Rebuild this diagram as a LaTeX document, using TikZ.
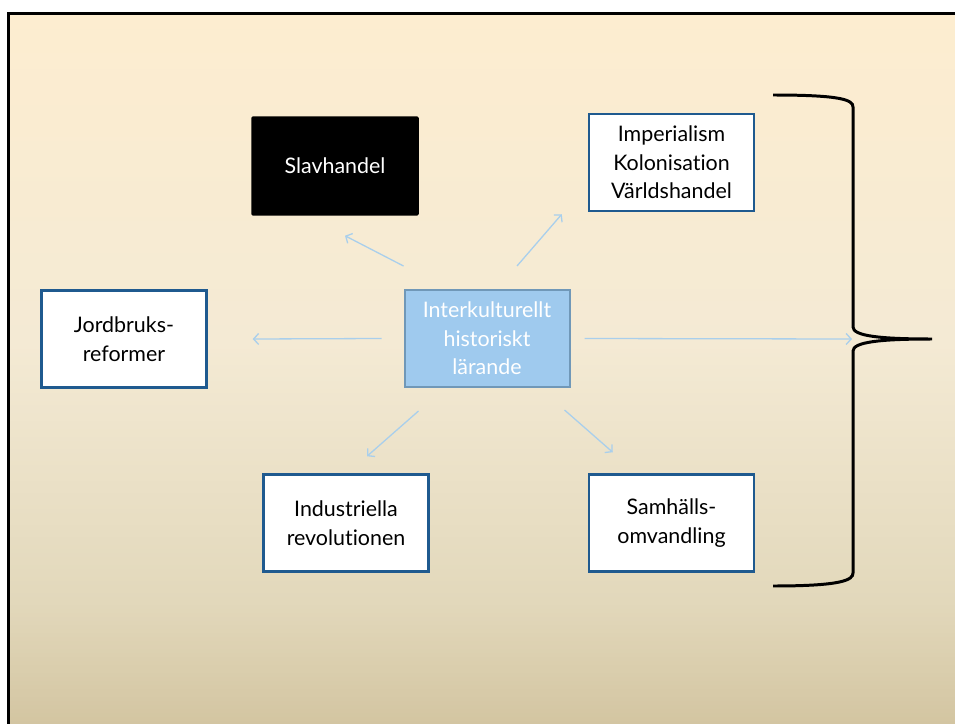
\documentclass[tikz,border=0pt]{standalone}
\usepackage{fontspec}
\setmainfont{Lato}[Ligatures=NoCommon]
\usetikzlibrary{arrows.meta}
\definecolor{bgtop}{HTML}{FDEDD0}
\definecolor{bgmid}{HTML}{F4EAD4}
\definecolor{bglow}{HTML}{E2D8BB}
\definecolor{bgbot}{HTML}{D3C5A1}
\definecolor{boxblue}{HTML}{1F5A8F}
\definecolor{hubfill}{HTML}{9FCAEE}
\definecolor{hubline}{HTML}{7098B8}
\definecolor{linkblue}{HTML}{A9CFEC}
\begin{document}
\begin{tikzpicture}[x=1bp,y=-1bp,
    topic/.style={draw=boxblue, line width=2.5pt, fill=white, minimum width=165bp, minimum height=97bp, align=center, font=\fontsize{21.5}{28.5}\selectfont},
    hub/.style={topic, draw=hubline, line width=2pt, fill=hubfill, text=white},
    dark/.style={topic, draw=black, fill=black, text=white, rounded corners=1pt},
    link/.style={draw=linkblue, line width=1.3pt, -{Straight Barb[length=5pt,width=11pt]}}]
    \useasboundingbox (0,0) rectangle (955,724);
    % slide background, in strips
    \foreach \y in {13,17,...,337} {\pgfmathsetmacro\p{(\y-13)/327*100}
      \fill[bgmid!\p!bgtop] (8.5,\y) rectangle (975,\y+4.5);}
    \foreach \y in {341,345,...,597} {\pgfmathsetmacro\p{(\y-341)/259*100}
      \fill[bglow!\p!bgmid] (8.5,\y) rectangle (975,\y+4.5);}
    \foreach \y in {601,605,...,721} {\pgfmathsetmacro\p{(\y-601)/123*100}
      \fill[bgbot!\p!bglow] (8.5,\y) rectangle (975,\y+4.5);}
    \draw[line width=3.5pt] (8.5,724) |- (975,13.5);
    % boxes
    \node[hub] (hub) at (487,338.5) {Interkulturellt\\historiskt\\lärande};
    \node[dark] (slav) at (335,166) {Slavhandel};
    \node[topic] (imp) at (671.5,162.5) {Imperialism\\Kolonisation\\Världshandel};
    \node[topic] (jord) at (124,339) {Jordbruks-\\reformer};
    \node[topic] (ind) at (346,523) {Industriella\\revolutionen};
    \node[topic] (sam) at (671.5,523) {Samhälls-\\omvandling};
    % brace
    \coordinate (tip) at (852,339);
    \draw[line width=3pt] (773,95) .. controls (842,95) and (853,100) .. (853,107) -- (853,327)
      .. controls (853,336) and (880,339) .. (932,339)
      .. controls (880,339) and (853,342) .. (853,351) -- (853,573)
      .. controls (853,580) and (842,586) .. (773,586);
    % arrows
    \draw[link] ([yshift=23bp]hub.north west) -- ([xshift=10bp,yshift=-20bp]slav.south);
    \draw[link] ([xshift=30bp,yshift=23bp]hub.north) -- ([xshift=-26bp,yshift=-2bp]imp.south west);
    \draw[link] ([xshift=-22bp]hub.west) -- ([xshift=45bp]jord.east);
    \draw[link] ([xshift=14bp]hub.east) -- (tip);
    \draw[link] ([xshift=15bp,yshift=-23bp]hub.south west) -- ([xshift=21bp,yshift=17bp]ind.north);
    \draw[link] ([xshift=-6bp,yshift=-22bp]hub.south east) -- ([xshift=25bp,yshift=21bp]sam.north west);
\end{tikzpicture}
\end{document}
